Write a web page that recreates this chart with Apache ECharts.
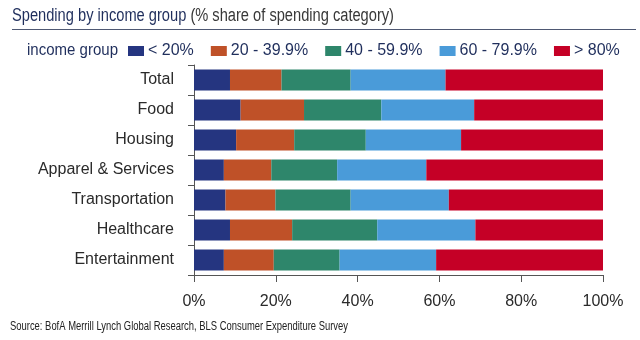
<!DOCTYPE html>
<html>
<head>
<meta charset="utf-8">
<script src="https://cdn.jsdelivr.net/npm/echarts@6/dist/echarts.min.js"></script>
<style>html,body{margin:0;padding:0;background:#fff;}#c{width:640px;height:340px;}</style>
</head>
<body>
<div id="c"></div>
<script>
var categories = ["Total", "Food", "Housing", "Apparel & Services", "Transportation", "Healthcare", "Entertainment"];
var seriesNames = ["< 20%", "20 - 39.9%", "40 - 59.9%", "60 - 79.9%", "> 80%"];
var lowest = [8.8, 11.4, 10.3, 7.3, 7.7, 8.8, 7.3];
var second = [12.6, 15.5, 14.2, 11.6, 12.2, 15.2, 12.2];
var third = [16.9, 18.9, 17.5, 16.1, 18.4, 20.8, 16.1];
var fourth = [23.2, 22.7, 23.3, 21.8, 24.0, 24.0, 23.6];
var highest = [38.5, 31.5, 34.7, 43.2, 37.7, 31.2, 40.8];
var xTicks = [0, 20, 40, 60, 80, 100];

var colors = ["#253580", "#bf5128", "#2e866b", "#4a9bd9", "#c50026"];
var data = [lowest, second, third, fourth, highest];
var FONT = "'Liberation Sans',Arial,sans-serif";

var titleA = 'Spending by income group';
var titleB = ' (% share of spending category)';
var sourceText = 'Source: BofA Merrill Lynch Global Research, BLS Consumer Expenditure Survey';

function measure(txt, size) {
  var cv = document.createElement('canvas').getContext('2d');
  cv.font = size + 'px ' + FONT;
  return cv.measureText(txt).width;
}
var titleScale = 382 / measure(titleA + titleB, 18);
var sourceScale = 338 / measure(sourceText, 12);
var groupScale = 91 / measure('income group', 16);

var chart = echarts.init(document.getElementById('c'), null, {renderer: 'canvas'});
chart.setOption({
  animation: false,
  backgroundColor: '#fff',
  color: colors,
  graphic: [
    {type: 'text', x: 12, y: 16.5, scaleX: titleScale, style: {
      rich: {a: {fill: '#1f2e5c', fontSize: 18, fontFamily: FONT}, b: {fill: '#383838', fontSize: 18, fontFamily: FONT}},
      text: '{a|' + titleA + '}{b|' + titleB + '}', verticalAlign: 'middle', align: 'left'}},
    {type: 'line', shape: {x1: 12, y1: 29.5, x2: 636, y2: 29.5}, style: {stroke: '#4e5873', lineWidth: 1.2}},
    {type: 'text', x: 27, y: 50.5, scaleX: groupScale, style: {text: 'income group', fill: '#1f2e5c', fontSize: 16, fontFamily: FONT, verticalAlign: 'middle', align: 'left'}},
    {type: 'text', x: 10, y: 326.5, scaleX: sourceScale, style: {text: sourceText, fill: '#222222', fontSize: 12, fontFamily: FONT, verticalAlign: 'middle', align: 'left'}}
  ],
  legend: {
    left: 123, top: 38,
    icon: 'rect', itemWidth: 16, itemHeight: 10, itemGap: 17,
    textStyle: {fontSize: 16, color: '#1f2e5c', fontFamily: FONT, padding: [0, 0, 0, -1]},
    data: seriesNames
  },
  grid: {left: 194, right: 37, top: 65, height: 210, containLabel: false},
  xAxis: {
    type: 'value', min: 0, max: 100, interval: 20,
    axisLine: {show: true, lineStyle: {color: '#555'}},
    axisTick: {show: true, length: 7, lineStyle: {color: '#555'}},
    splitLine: {show: false},
    axisLabel: {margin: 19, fontSize: 16, color: '#2a2a2a', fontFamily: FONT, formatter: function (v) { return xTicks.indexOf(v) >= 0 ? v + '%' : ''; }}
  },
  yAxis: {
    type: 'category', inverse: true, data: categories,
    axisLine: {show: true, lineStyle: {color: '#555'}},
    axisTick: {show: true, length: 6, lineStyle: {color: '#555'}},
    axisLabel: {margin: 20, fontSize: 16, color: '#2a2a2a', fontFamily: FONT, padding: [0, 0, 4, 0]}
  },
  series: seriesNames.map(function (n, i) {
    return {name: n, type: 'bar', stack: 'all', data: data[i], barWidth: 21, itemStyle: {color: colors[i]}};
  })
});
</script>
</body>
</html>
